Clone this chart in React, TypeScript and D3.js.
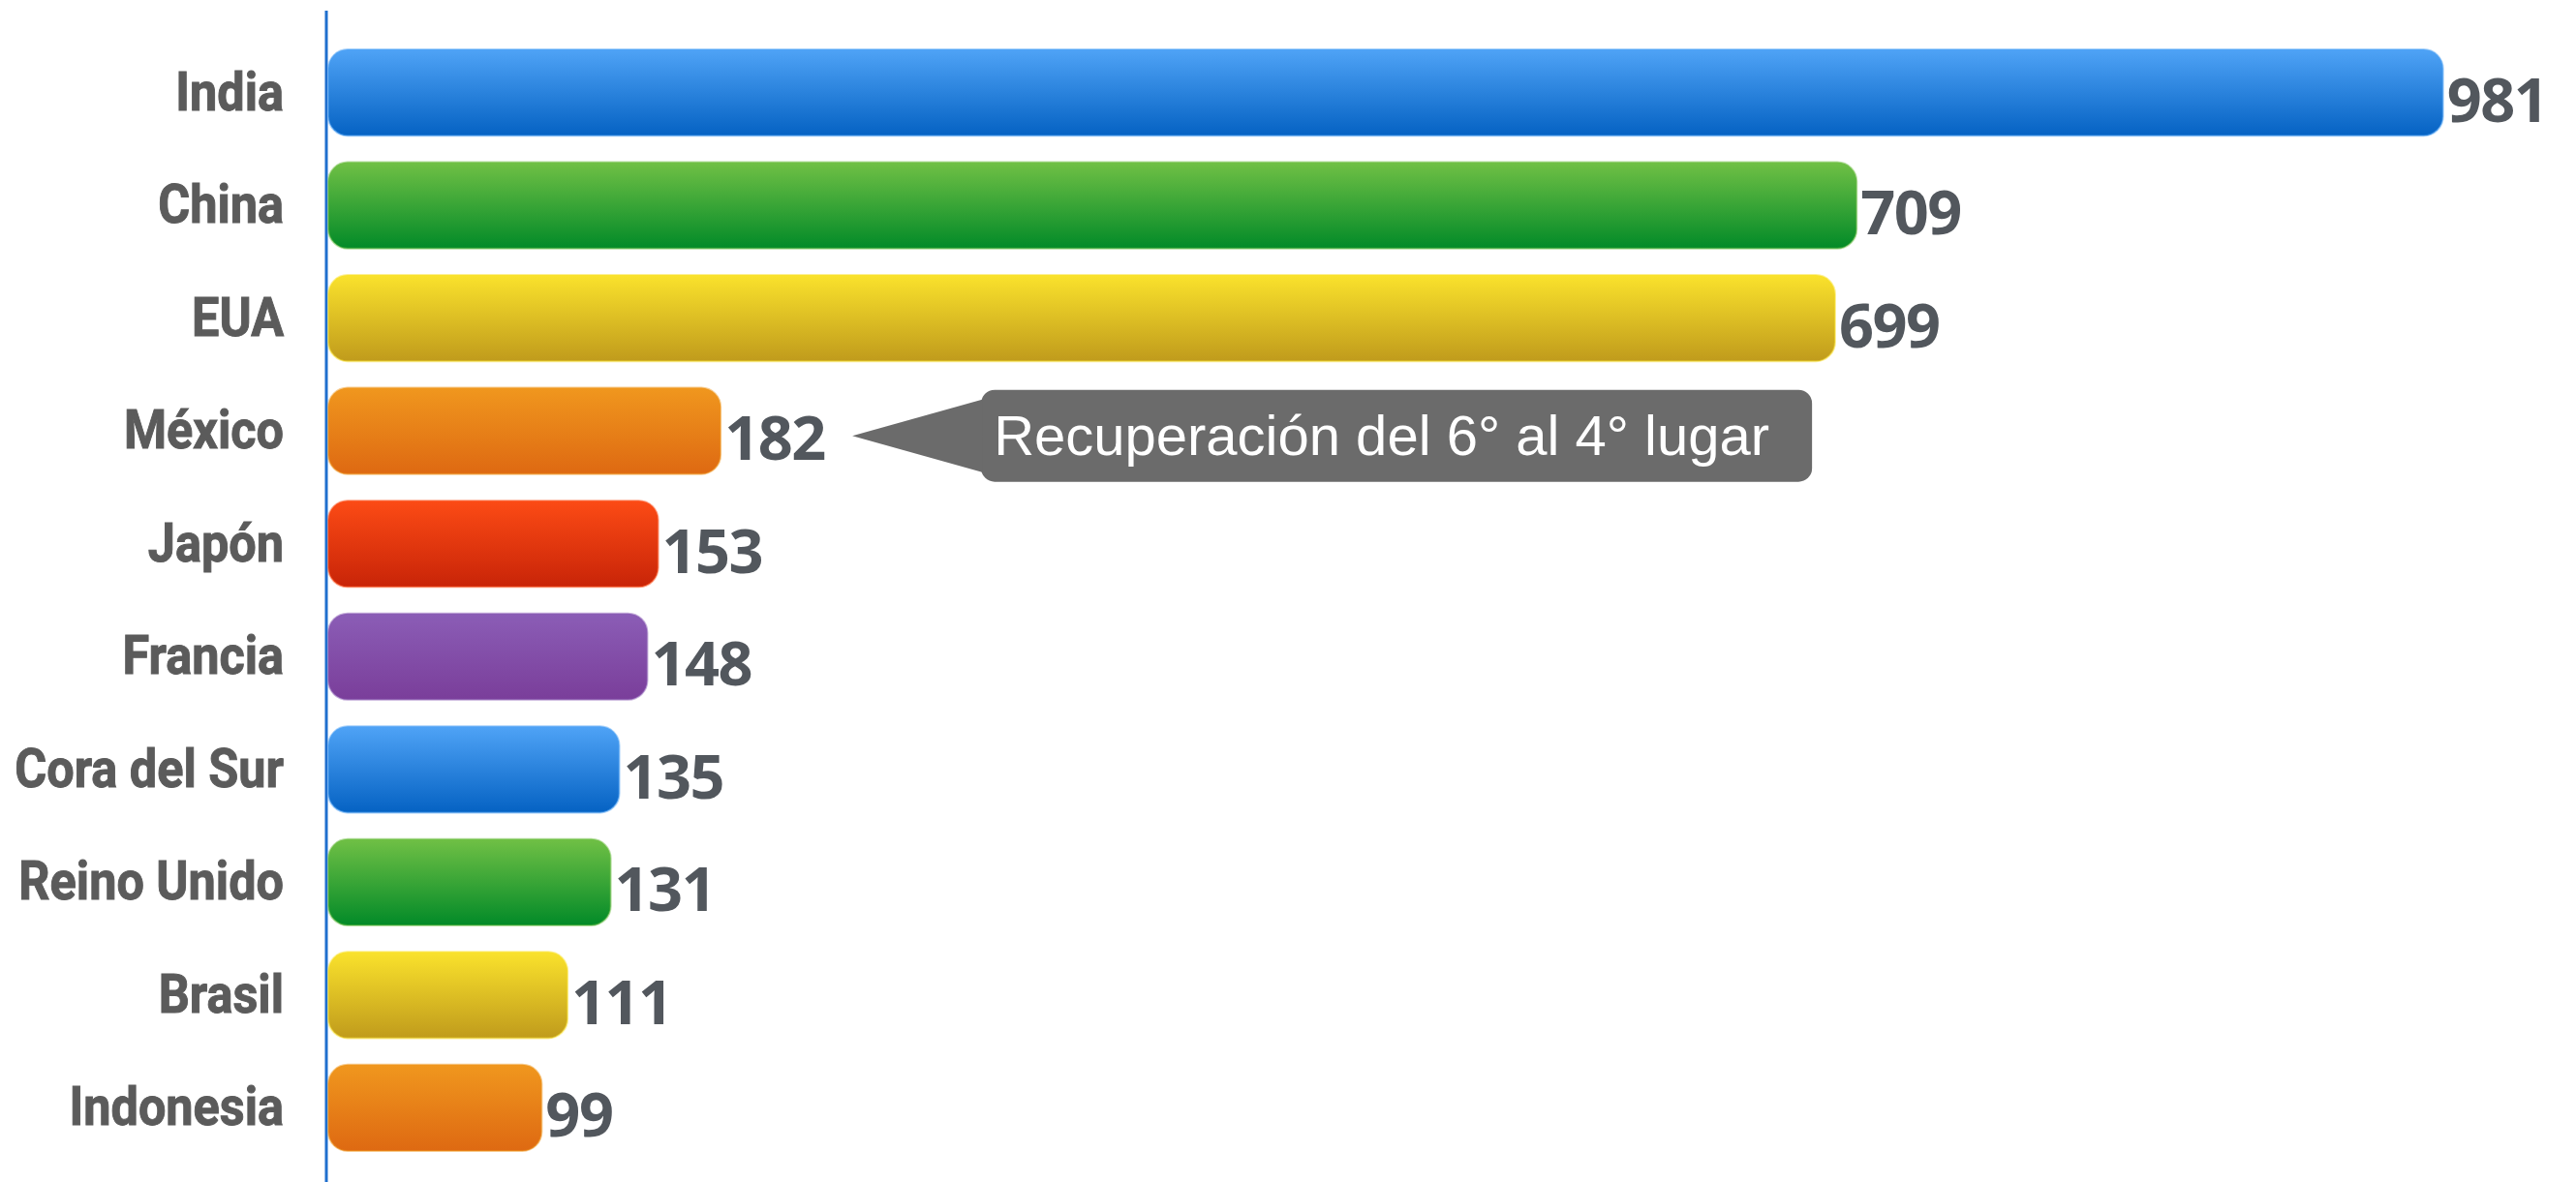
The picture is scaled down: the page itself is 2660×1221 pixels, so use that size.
import React, { useEffect, useRef } from 'react';
import * as d3 from 'd3';

const countries = ['India', 'China', 'EUA', 'México', 'Japón', 'Francia', 'Cora del Sur', 'Reino Unido', 'Brasil', 'Indonesia'];
const values = [981, 709, 699, 182, 153, 148, 135, 131, 111, 99];
const barColors = ['blue', 'green', 'yellow', 'orange', 'red', 'purple', 'blue', 'green', 'yellow', 'orange'];
const calloutText = 'Recuperación del 6° al 4° lugar';
const calloutCountry = 'México';

const gradients = {
  blue: ['#4fa3f6', '#0562c3'],
  green: ['#70c045', '#028a28'],
  yellow: ['#fae22c', '#c09b1c'],
  orange: ['#f0971e', '#de6912'],
  red: ['#fc4b15', '#c82408'],
  purple: ['#8b5db6', '#7a3e9a'],
};

const App = () => {
  const ref = useRef<SVGSVGElement>(null);

  useEffect(() => {
    const svg = d3.select(ref.current);
    svg.selectAll('*').remove();

    const height = 1221;
    const left = 339;

    const data = countries.map((c, i) => ({ name: c, value: values[i], color: barColors[i] }));

    const x = d3.scaleLinear().domain([0, 1000]).range([left, left + 2226]);
    const y = d3.scaleBand().domain(countries).range([51, 1189]).paddingInner(0.235).paddingOuter(0);

    const defs = svg.append('defs');
    Object.entries(gradients).forEach(([key, [top, bottom]]) => {
      const g = defs
        .append('linearGradient')
        .attr('id', `grad-${key}`)
        .attr('x1', 0)
        .attr('y1', 0)
        .attr('x2', 0)
        .attr('y2', 1);
      g.append('stop').attr('offset', '0%').attr('stop-color', top);
      g.append('stop').attr('offset', '100%').attr('stop-color', bottom);
    });

    // axis line
    svg
      .append('line')
      .attr('x1', left - 2)
      .attr('x2', left - 2)
      .attr('y1', 11)
      .attr('y2', height)
      .attr('stroke', '#1f6fce')
      .attr('stroke-width', 3);

    // bars
    svg
      .selectAll('rect.bar')
      .data(data)
      .enter()
      .append('rect')
      .attr('class', 'bar')
      .attr('x', x(0))
      .attr('y', d => y(d.name))
      .attr('width', d => x(d.value) - x(0))
      .attr('height', y.bandwidth())
      .attr('rx', 20)
      .attr('ry', 20)
      .style('fill', d => `url(#grad-${d.color})`)
      .style('stroke', d => gradients[d.color][0])
      .style('stroke-opacity', 0.5)
      .style('stroke-width', 2);

    // value labels
    svg
      .selectAll('text.value')
      .data(data)
      .enter()
      .append('text')
      .attr('class', 'value')
      .attr('x', d => x(d.value) + 4)
      .attr('y', d => y(d.name) + y.bandwidth() / 2 + 30)
      .attr('font-family', '"Open Sans", sans-serif')
      .attr('font-weight', 700)
      .attr('font-size', 63)
      .attr('letter-spacing', -1.5)
      .attr('fill', '#52575d')
      .text(d => d.value);

    // category labels
    const labelRight = 293;
    svg
      .selectAll('text.cat')
      .data(data)
      .enter()
      .append('text')
      .attr('class', 'cat')
      .attr('transform', d => `translate(${labelRight}, ${y(d.name) + y.bandwidth() / 2 + 18}) scale(0.9, 1)`)
      .attr('text-anchor', 'end')
      .attr('font-family', 'Roboto, "Liberation Sans", sans-serif')
      .attr('font-weight', 700)
      .attr('font-size', 56)
      .attr('fill', '#5b5b5b')
      .attr('stroke', '#5b5b5b')
      .attr('stroke-width', 1)
      .text(d => d.name);

    // callout
    const cy = y(calloutCountry) + y.bandwidth() / 2 + 5;
    const tipX = x(values[countries.indexOf(calloutCountry)]) + 136;
    const boxX = tipX + 133;
    const boxW = 858;
    const boxH = 95;
    const boxY = cy - boxH / 2;
    const callout = svg.append('g');
    callout
      .append('rect')
      .attr('x', boxX)
      .attr('y', boxY)
      .attr('width', boxW)
      .attr('height', boxH)
      .attr('rx', 14)
      .attr('fill', '#6b6b6b');
    callout
      .append('path')
      .attr('d', d3.line()([[tipX, cy], [boxX + 1, boxY + 10], [boxX + 1, boxY + boxH - 10]]) + 'Z')
      .attr('fill', '#6b6b6b');
    callout
      .append('text')
      .attr('x', boxX + 13)
      .attr('y', cy + 20)
      .attr('font-family', '"Liberation Sans", Arial, sans-serif')
      .attr('font-size', 58)
      .attr('fill', '#ffffff')
      .text(calloutText);
  }, []);

  return (
    <div style={{ position: 'absolute', left: 0, top: 0 }}>
      <svg ref={ref} width={2660} height={1221} style={{ display: 'block', background: '#fff' }} />
    </div>
  );
};

export default App;
